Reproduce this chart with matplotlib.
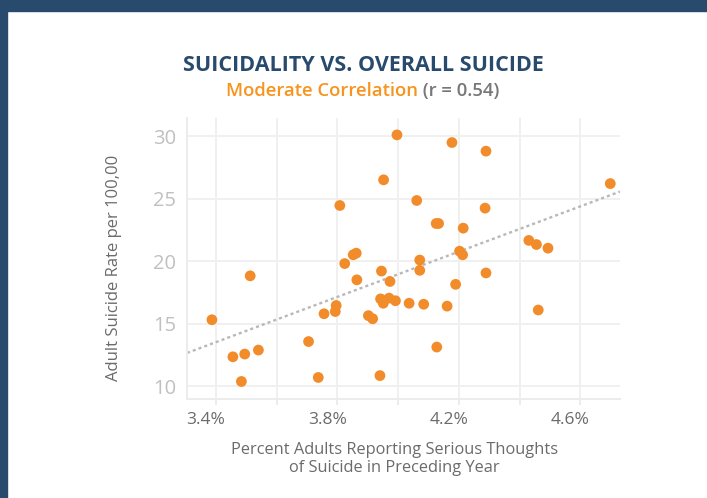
import numpy as np
import matplotlib
matplotlib.use("Agg")
import matplotlib.pyplot as plt
from matplotlib.patches import Rectangle
from matplotlib.transforms import ScaledTranslation

# % adults reporting serious thoughts of suicide vs adult suicide rate, by state
thoughts_pct = [3.387, 3.513, 3.456, 3.495, 3.540, 3.484, 3.705, 3.737, 3.756, 3.793,
                3.796, 3.808, 3.824, 3.852, 3.862, 3.864, 3.996, 4.177, 4.289, 3.952,
                4.061, 4.286, 4.125, 4.133, 4.214, 3.945, 4.071, 4.071, 4.202, 4.212,
                3.973, 4.189, 4.289, 4.430, 4.455, 4.493, 4.698, 3.942, 3.951, 3.970,
                3.991, 4.036, 4.084, 4.161, 4.461, 3.902, 3.916, 4.127, 3.940]
suicide_rate = [15.33, 18.84, 12.37, 12.59, 12.91, 10.40, 13.59, 10.72, 15.81, 15.99,
                16.47, 24.46, 19.82, 20.52, 20.65, 18.52, 30.10, 29.49, 28.80, 26.51,
                24.86, 24.25, 23.02, 23.02, 22.65, 19.22, 20.10, 19.28, 20.81, 20.52,
                18.39, 18.16, 19.07, 21.67, 21.34, 21.05, 26.21, 17.00, 16.65, 17.06,
                16.85, 16.65, 16.57, 16.42, 16.11, 15.66, 15.41, 13.15, 10.87]

x_labeled = [3.4, 3.8, 4.2, 4.6]
x_between = [3.6, 4.0, 4.4]
y_ticks = [10, 15, 20, 25, 30]

title = "SUICIDALITY VS. OVERALL SUICIDE"
sub_main = "Moderate Correlation"
sub_r = " (r = 0.54)"

NAVY = "#284a6c"
ORANGE = "#f28c2a"
GREY = "#6b6b6b"

plt.rcParams['font.family'] = ['Open Sans', 'DejaVu Sans']

fig = plt.figure(figsize=(7.07, 4.98), dpi=100)
fig.patch.set_facecolor("white")
# frame band along top and left
fig.patches.append(Rectangle((0, 1 - 11 / 498), 1, 11 / 498, transform=fig.transFigure,
                             color=NAVY, zorder=0))
fig.patches.append(Rectangle((0, 0), 7 / 707, 1, transform=fig.transFigure,
                             color=NAVY, zorder=0))

ax = fig.add_axes([187 / 707, 99 / 498, 433 / 707, 281 / 498])
x = np.array(thoughts_pct)
y = np.array(suicide_rate)

ax.set_xlim(3.305, 4.73)
ax.set_ylim(9.0, 31.45)

# least squares trend
k, b = np.polyfit(x, y, 1)
xl = np.array(ax.get_xlim())
ax.plot(xl, k * xl + b, color="#b8b8b8", lw=1.7, ls=(0, (1.3, 1.3)), zorder=2)

ax.scatter(x, y, s=60, color=ORANGE, edgecolors="none", zorder=3)

ax.set_xticks(x_labeled)
ax.set_xticks(x_between, minor=True)
ax.set_xticklabels(["%.1f%%" % v for v in x_labeled])
ax.set_yticks(y_ticks)
ax.set_yticklabels([str(v) for v in y_ticks])
ax.grid(True, which="both", color="#f0f0f0", lw=1.4, zorder=0)
ax.set_axisbelow(True)

for s in ["top", "right"]:
    ax.spines[s].set_visible(False)
for s in ["left", "bottom"]:
    ax.spines[s].set_color("#ececec")
    ax.spines[s].set_linewidth(1.4)

ax.tick_params(axis="x", which="both", length=4, color="#ececec", width=1.4,
               pad=5, labelsize=12.5, labelcolor=GREY)
ax.tick_params(axis="y", length=0, pad=8, labelsize=14.5, labelcolor="#c0c0c0")
for lab in ax.get_xticklabels():
    lab.set_transform(lab.get_transform() + ScaledTranslation(-10 / 100, 0, fig.dpi_scale_trans))

fig.text(114 / 707, 1 - 268 / 498, "Adult Suicide Rate per 100,00", rotation=90,
         ha="center", va="center", fontsize=12, color=GREY)
fig.text(394.5 / 707, 1 - 459 / 498,
         "Percent Adults Reporting Serious Thoughts\nof Suicide in Preceding Year",
         ha="center", va="center", fontsize=11.8, color=GREY, linespacing=1.15)

fig.text(363 / 707, 1 - 65 / 498, title, ha="center", va="center",
         fontsize=15.5, fontweight="bold", color=NAVY)

# two-colour subtitle, centred as one line
r = fig.canvas.get_renderer()
t1 = fig.text(0, 1 - 91 / 498, sub_main, ha="left", va="center",
              fontsize=13.3, fontweight="semibold", color="#f7941d")
t2 = fig.text(0, 1 - 91 / 498, sub_r, ha="left", va="center",
              fontsize=13.3, fontweight="semibold", color="#777777")
w1 = t1.get_window_extent(r).width
w2 = t2.get_window_extent(r).width
x0 = 363 - (w1 + w2) / 2
t1.set_x(x0 / 707)
t2.set_x((x0 + w1) / 707)

fig.savefig("out.png", dpi=100)
